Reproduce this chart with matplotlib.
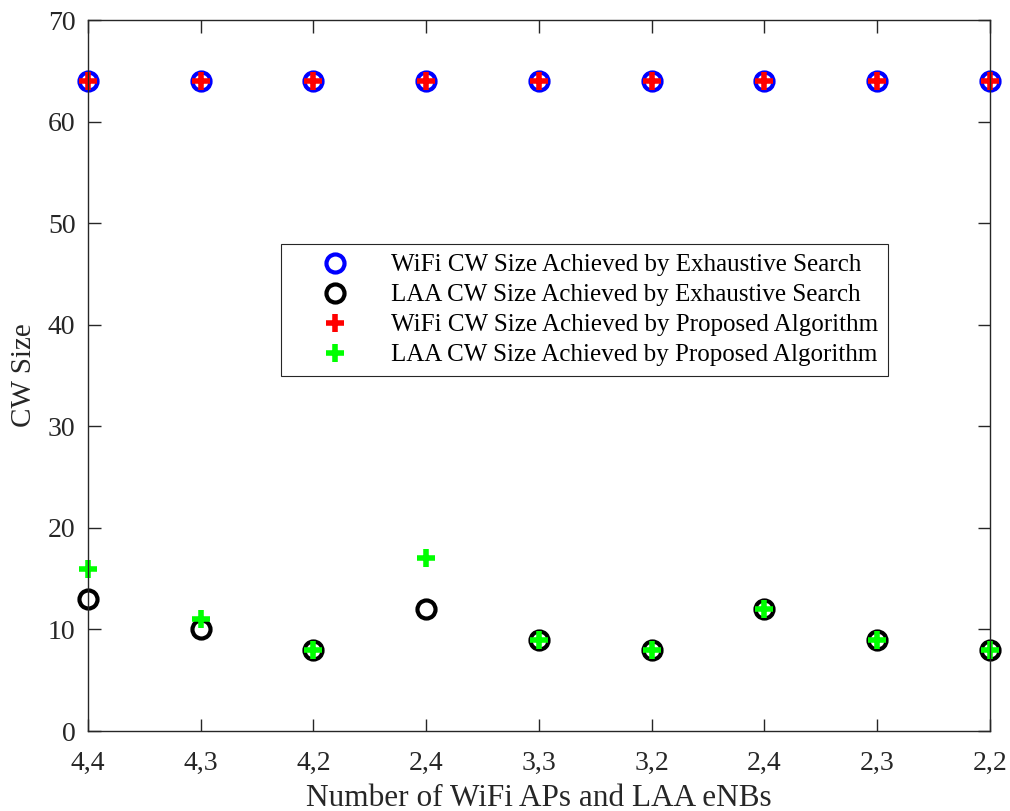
import numpy as np
import matplotlib
matplotlib.use('Agg')
from matplotlib import pyplot as plt

plt.rcParams['font.family'] = ['Liberation Serif', 'DejaVu Serif']
plt.rcParams['mathtext.fontset'] = 'stix'

# data
labels = ['4,4', '4,3', '4,2', '2,4', '3,3', '3,2', '2,4', '2,3', '2,2']
wifi_es = [64, 64, 64, 64, 64, 64, 64, 64, 64]
laa_es = [13, 10, 8, 12, 9, 8, 12, 9, 8]
wifi_pa = [64, 64, 64, 64, 64, 64, 64, 64, 64]
laa_pa = [16, 11, 8, 17, 9, 8, 12, 9, 8]

x = np.arange(1, len(labels) + 1)
axcol = '#262626'

fig = plt.figure(figsize=(10.1, 8.11), dpi=100)
ax = fig.add_axes([0.0871, 0.0986, 0.8931, 0.8767])

ax.plot(x, wifi_es, 'o', color='blue', markerfacecolor='none', markersize=13,
        markeredgewidth=3, linestyle='none', clip_on=False,
        label='WiFi CW Size Achieved by Exhaustive Search')
ax.plot(x, laa_es, 'o', color='black', markerfacecolor='none', markersize=13,
        markeredgewidth=3, linestyle='none', clip_on=False,
        label='LAA CW Size Achieved by Exhaustive Search')
ax.plot(x, wifi_pa, '+', color='red', markersize=13, markeredgewidth=4,
        linestyle='none', clip_on=False,
        label='WiFi CW Size Achieved by Proposed Algorithm')
ax.plot(x, laa_pa, '+', color=(0, 1, 0), markersize=13, markeredgewidth=4,
        linestyle='none', clip_on=False,
        label='LAA CW Size Achieved by Proposed Algorithm')

ax.set_xlim(1, 9)
ax.set_ylim(0, 70)
ax.set_xticks(x)
ax.set_xticklabels(labels)
ax.set_yticks(np.arange(0, 71, 10))
ax.tick_params(direction='in', top=True, right=True, length=9, width=1,
               colors=axcol, labelsize=20)
ax.tick_params(axis='x', pad=14)
ax.tick_params(axis='y', pad=9)
for s in ax.spines.values():
    s.set_color(axcol)
    s.set_linewidth(1)

ax.set_xlabel('Number of WiFi APs and LAA eNBs', fontsize=22.5, color=axcol, labelpad=6)
ax.set_ylabel('CW Size', fontsize=21, color=axcol, labelpad=8)

leg = ax.legend(loc='upper left', bbox_to_anchor=(0.214, 0.685), fontsize=18,
                frameon=True, fancybox=False, edgecolor=axcol, framealpha=1,
                borderpad=0.4, labelspacing=0.3, handletextpad=0.5,
                handlelength=3.5, borderaxespad=0)
leg.get_frame().set_linewidth(0.8)

fig.savefig('out.png', dpi=100)
